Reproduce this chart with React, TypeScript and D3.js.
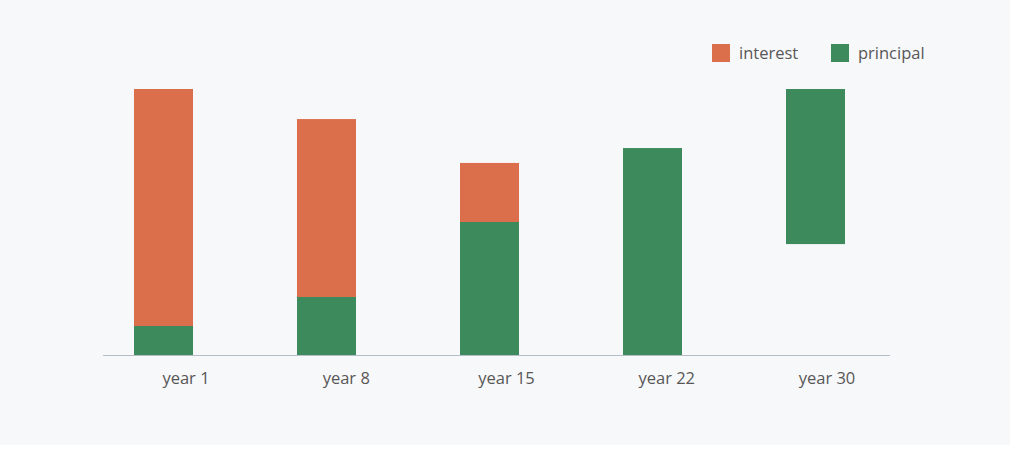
import { useMemo } from "react";
import * as d3 from "d3";

const WIDTH = 1010;
const HEIGHT = 445;
const AXIS_Y = 355;
const TOP_Y = 89;

const CATEGORIES = ["year 1", "year 8", "year 15", "year 22", "year 30"];
// each segment: [start, end] in payment share (0..1000)
const PRINCIPAL: [number, number][] = [
  [0, 109],
  [0, 218],
  [0, 500],
  [0, 778],
  [417, 1000],
];
const INTEREST: [number, number][] = [
  [109, 1000],
  [218, 887],
  [500, 722],
  [778, 778],
  [1000, 1000],
];
const SERIES = [
  { name: "interest", color: "#db6f4c", values: INTEREST },
  { name: "principal", color: "#3d8b5c", values: PRINCIPAL },
];

const FONT = "'Open Sans', 'Noto Sans', sans-serif";
const TEXT = "#575757";

export default function App() {
  const x = useMemo(
    () =>
      d3
        .scaleBand()
        .domain(CATEGORIES)
        .range([82, 897])
        .paddingInner(0.638)
        .paddingOuter(0.319),
    []
  );
  // tick labels sit a bit right of the bars in the original
  const xLabel = useMemo(
    () => d3.scalePoint().domain(CATEGORIES).range([186, 827]),
    []
  );
  const y = useMemo(
    () => d3.scaleLinear().domain([0, 1000]).range([AXIS_Y, TOP_Y]),
    []
  );

  return (
    <svg
      width={WIDTH}
      height={HEIGHT}
      style={{ position: "absolute", left: 0, top: 0, fontFamily: FONT }}
    >
      <rect width={WIDTH} height={HEIGHT} fill="#f7f8fa" />
      {SERIES.map((s) =>
        s.values.map(([a, b], i) =>
          b > a ? (
            <rect
              key={s.name + i}
              x={x(CATEGORIES[i])}
              y={y(b)}
              width={x.bandwidth()}
              height={y(a) - y(b)}
              fill={s.color}
            />
          ) : null
        )
      )}
      <line x1={103} x2={890} y1={AXIS_Y + 0.5} y2={AXIS_Y + 0.5} stroke="#b4bec8" strokeWidth={1} />
      {CATEGORIES.map((c) => (
        <text
          key={c}
          x={xLabel(c)}
          y={384}
          textAnchor="middle"
          fontSize={16.5}
          fill={TEXT}
        >
          {c}
        </text>
      ))}
      <g>
        <rect x={712} y={44} width={18} height={18} fill={SERIES[0].color} />
        <text x={739} y={59} fontSize={16.5} fill={TEXT}>
          {SERIES[0].name}
        </text>
        <rect x={831} y={44} width={18} height={18} fill={SERIES[1].color} />
        <text x={858} y={59} fontSize={16.5} fill={TEXT}>
          {SERIES[1].name}
        </text>
      </g>
    </svg>
  );
}
